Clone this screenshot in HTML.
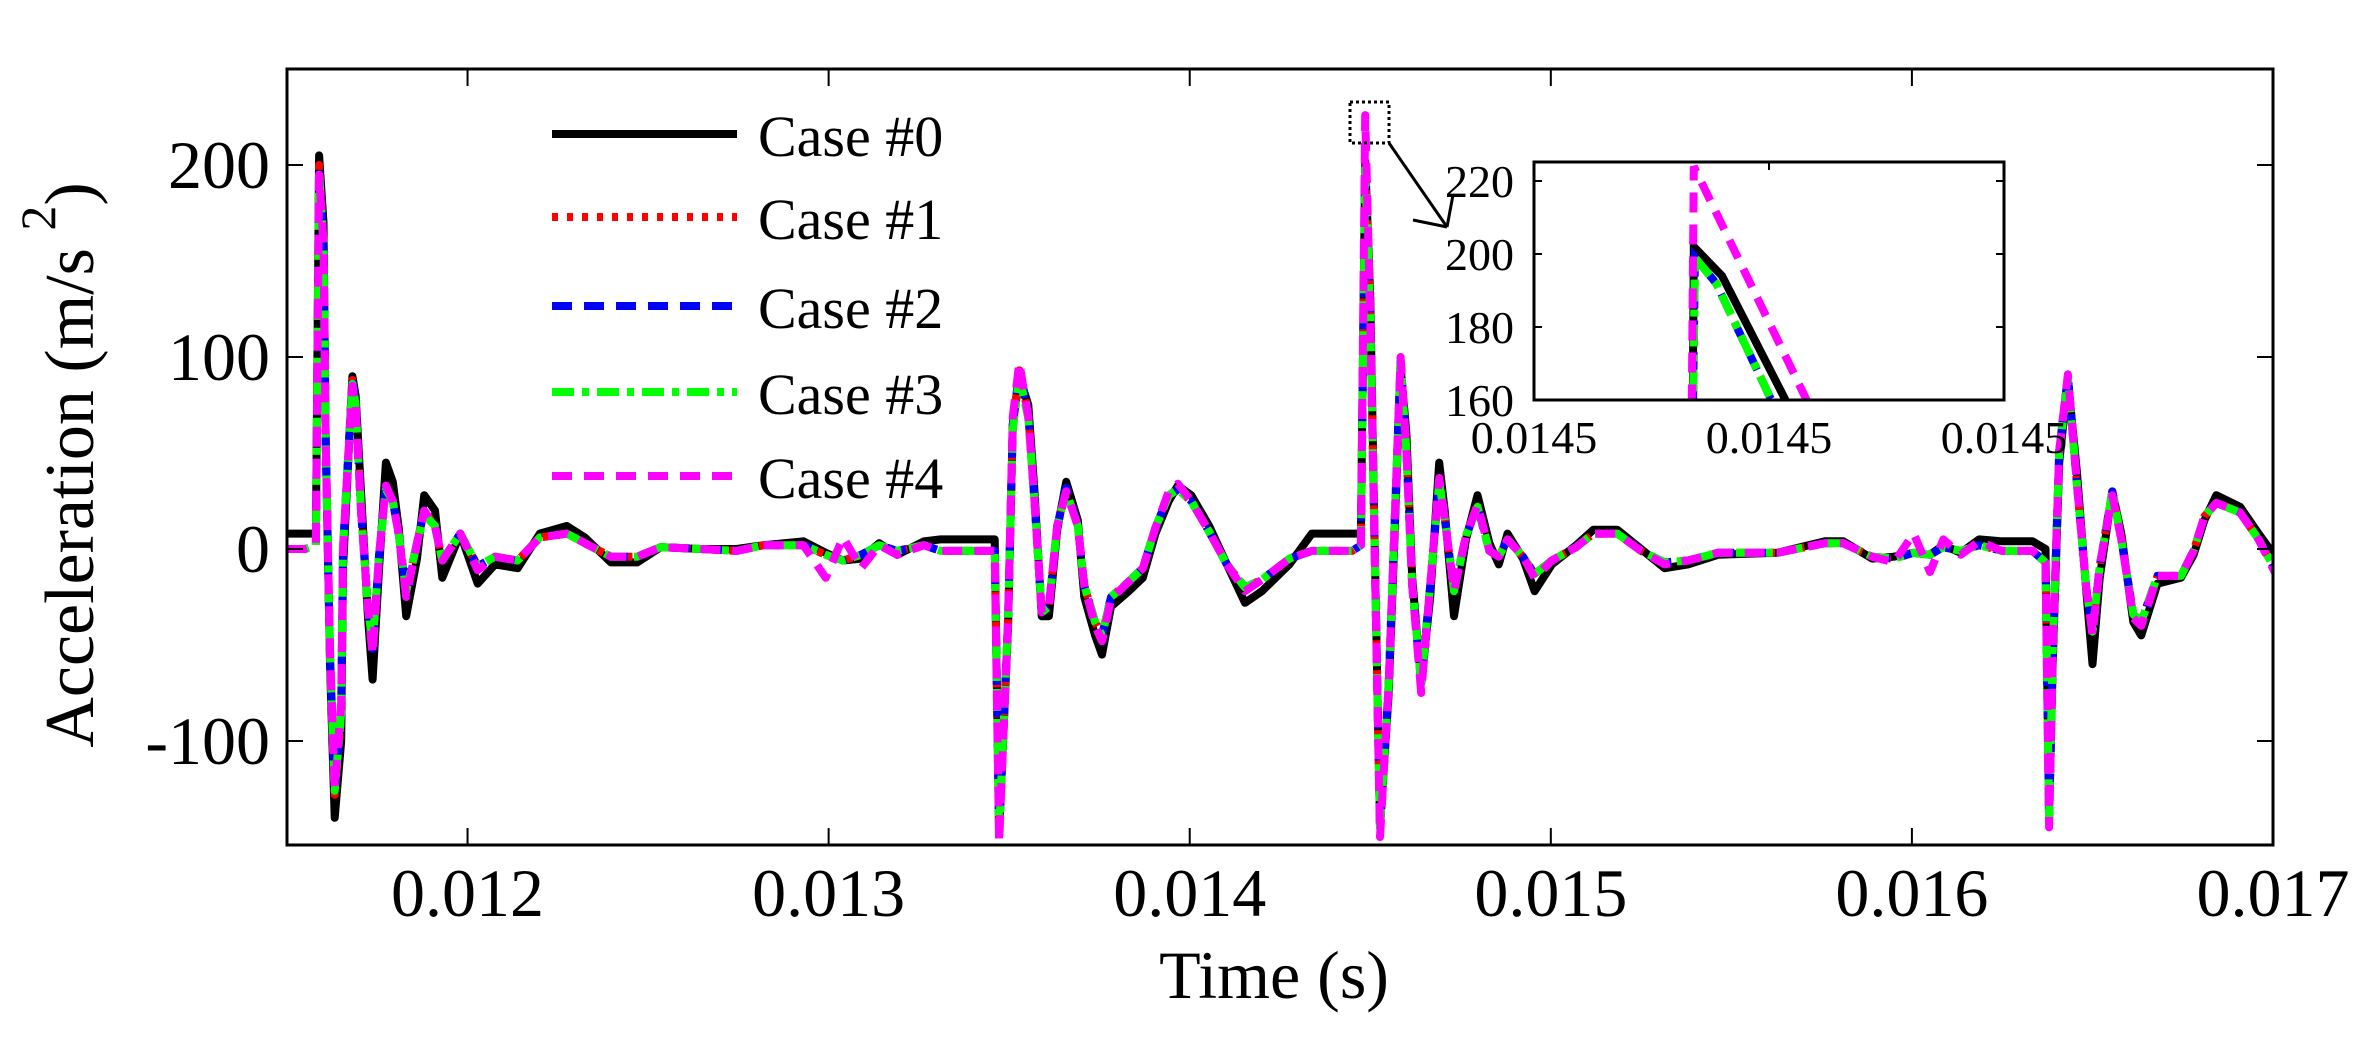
<!DOCTYPE html>
<html><head><meta charset="utf-8"><style>
html,body{margin:0;padding:0;background:#fff;}
svg{display:block;font-family:"Liberation Serif",serif;}
</style></head><body>
<svg id="chart" width="2373" height="1037" viewBox="0 0 2373 1037" xmlns="http://www.w3.org/2000/svg">
<defs>
<clipPath id="mainClip"><rect x="287" y="69" width="1986" height="776"/></clipPath>
<clipPath id="insetClip"><rect x="1534" y="162" width="470" height="238"/></clipPath>
</defs>
<rect x="287" y="69" width="1986" height="776" fill="#fff"/>
<g id="series" clip-path="url(#mainClip)"></g>
<g id="axes"></g>
<rect x="287" y="69" width="1986" height="776" fill="none" stroke="#000" stroke-width="3"/>
<text x="1274" y="998" font-size="68" text-anchor="middle">Time (s)</text>
<text transform="translate(93,465) rotate(-90)" font-size="70" text-anchor="middle">Acceleration (m/s <tspan font-size="50" dy="-38">2</tspan><tspan dy="38">)</tspan></text>
<g id="legend"></g>
<rect x="1350" y="102" width="39" height="41" fill="none" stroke="#000" stroke-width="3" stroke-dasharray="3 3"/>
<g stroke="#000" stroke-width="3" fill="none">
<line x1="1389" y1="143" x2="1447" y2="227"/>
<line x1="1447" y1="227" x2="1413" y2="220"/>
<line x1="1447" y1="227" x2="1453" y2="195"/>
</g>
<rect x="1534" y="162" width="470" height="238" fill="#fff"/>
<g id="insetSeries" clip-path="url(#insetClip)"></g>
<g id="insetAxes"></g>
<rect x="1534" y="162" width="470" height="238" fill="none" stroke="#000" stroke-width="3"/>
</svg>
<script>
const timeMs = [
11.50,11.55,11.58,11.589,11.601,11.607,11.619,11.632,11.65,11.655,
11.681,11.69,11.705,11.724,11.737,11.755,11.774,11.793,11.81,11.83,
11.86,11.88,11.91,11.93,11.98,12.028,12.076,12.139,12.20,12.275,
12.325,12.397,12.47,12.535,12.646,12.745,12.82,12.93,12.992,13.04,
13.09,13.14,13.19,13.264,13.31,13.46,13.472,13.497,13.51,13.528,
13.553,13.57,13.59,13.61,13.633,13.658,13.69,13.708,13.738,13.757,
13.782,13.831,13.87,13.905,13.942,13.967,14.004,14.054,14.103,14.153,
14.20,14.276,14.338,14.45,14.474,14.486,14.50,14.51,14.527,14.551,
14.568,14.584,14.60,14.616,14.641,14.666,14.691,14.706,14.732,14.765,
14.797,14.83,14.856,14.88,14.923,14.955,15.003,15.07,15.118,15.184,
15.25,15.315,15.38,15.463,15.627,15.759,15.81,15.89,15.95,16.005,
16.05,16.087,16.135,16.186,16.25,16.334,16.37,16.38,16.39,16.408,
16.432,16.457,16.482,16.50,16.52,16.555,16.58,16.613,16.635,16.68,
16.745,16.78,16.81,16.843,16.909,16.96,17.01];
const case0 = [
8,8,8,205,170,60,-60,-140,-100,-10,
90,80,30,-35,-68,-10,45,35,10,-35,
-5,28,20,-15,8,-18,-8,-10,8,12,
6,-7,-7,1,0,0,2,4,-2,-6,
-5,3,-3,4,5,5,-148,-40,65,90,
75,30,-35,-35,10,35,15,-25,-45,-55,
-30,-22,-15,8,25,33,28,12,-8,-28,
-22,-8,8,8,8,202,130,25,-145,-75,
10,95,60,-15,-70,-25,45,20,-35,5,
28,3,-8,8,-5,-22,-8,2,10,10,
0,-10,-8,-3,-2,4,4,-5,-4,-2,
-3,2,-2,5,4,4,0,-140,-60,45,
88,40,-20,-60,-15,30,8,-38,-45,-18,
-15,-3,15,28,22,8,-5];
const case1 = [
0,0,2,200,160,60,-55,-128,-85,0,
88,75,20,-30,-52,-3,33,25,7,-22,
3,20,12,-6,8,-9,-4,-6,6,8,
3,-4,-4,1,0,-1,2,2,-3,-6,
-3,2,-1,2,-1,-1,-148,-36,65,93,
70,25,-33,-30,12,32,12,-19,-38,-45,
-25,-17,-10,11,28,31,25,9,-8,-20,
-16,-5,-1,-1,2,200,120,20,-145,-70,
16,98,51,-19,-70,-19,35,16,-22,7,
22,-1,-4,5,-4,-13,-6,1,8,8,
-1,-7,-6,-2,-2,3,3,-4,-5,-2,
-3,1,-1,2,-1,-1,-7,-142,-54,51,
90,34,-19,-43,-9,30,5,-34,-38,-14,
-14,-1,17,24,19,5,-12];
const case2 = [
0,0,2,198,160,60,-55,-126,-85,0,
88,75,20,-30,-52,-3,33,25,7,-22,
3,20,12,-6,8,-9,-4,-6,6,8,
3,-4,-4,1,0,-1,2,2,-3,-6,
-3,2,-1,2,-1,-1,-148,-36,65,93,
70,25,-33,-30,12,32,12,-19,-38,-45,
-25,-17,-10,11,28,31,25,9,-8,-20,
-16,-5,-1,-1,2,199,120,20,-145,-70,
16,98,51,-19,-70,-19,35,16,-22,7,
22,-1,-4,5,-4,-13,-6,1,8,8,
-1,-7,-6,-2,-2,3,3,-4,-5,-2,
-3,1,-1,2,-1,-1,-7,-142,-54,51,
90,34,-19,-43,-9,30,5,-34,-38,-14,
-14,-1,17,24,19,5,-12];
const case3 = [
0,0,2,196,158,60,-55,-126,-85,0,
86,75,20,-30,-50,-3,31,25,7,-22,
3,18,12,-6,8,-9,-4,-6,6,8,
3,-4,-4,1,0,-1,2,2,-3,-6,
-3,2,-1,2,-1,-1,-148,-36,62,90,
68,25,-33,-30,12,30,12,-19,-38,-45,
-25,-17,-10,11,28,31,25,9,-8,-20,
-16,-5,-1,-1,2,198,120,20,-145,-70,
16,96,51,-19,-70,-19,35,16,-22,7,
22,-1,-4,5,-4,-13,-6,1,8,8,
-1,-7,-6,-2,-2,3,3,-4,-5,-2,
-3,1,-1,2,-1,-1,-7,-142,-54,51,
88,34,-19,-43,-9,30,5,-34,-38,-14,
-14,-1,17,24,19,5,-12];
const case4 = [
0,0,2,195,159,59,-53,-125,-80,0,
85,75,20,-30,-55,-3,33,25,7,-25,
3,20,12,-6,8,-11,-4,-6,6,8,
3,-4,-4,1,0,-1,2,2,-15,6,
-10,2,-3,2,-1,-1,-153,-36,69,97,
69,25,-33,-30,12,30,12,-19,-40,-48,
-26,-17,-10,11,30,34,25,9,-8,-22,
-16,-5,-1,-1,2,226,120,20,-150,-71,
16,100,51,-19,-75,-19,37,16,-22,7,
23,-1,-4,5,-4,-15,-6,1,8,8,
-1,-8,-6,-2,-2,3,3,-4,-7,8,
-12,5,-3,4,-1,-1,-7,-145,-54,51,
91,34,-19,-45,-9,28,5,-36,-40,-14,
-14,-1,17,24,19,5,-14];
const xTicks = [12,13,14,15,16,17];
const xTickLabels = ["0.012","0.013","0.014","0.015","0.016","0.017"];
const yTicks = [-100,0,100,200];
const yTickLabels = ["-100","0","100","200"];
const legendLabels = ["Case #0","Case #1","Case #2","Case #3","Case #4"];
// inset data (ms, m/s^2)
const insetT0 = [14.48535,14.48536,14.48560,14.48614];
const insetV0 = [150,202,194,160];
const insetT1 = [14.48535,14.48537,14.48555,14.48602];
const insetV1 = [150,199,192,160];
const insetT4 = [14.48534,14.48536,14.48632];
const insetV4 = [150,224,160];
const insetXTicks = [14.484,14.486,14.488];
const insetXTickLabels = ["0.0145","0.0145","0.0145"];
const insetYTicks = [160,180,200,220];
const insetYTickLabels = ["160","180","200","220"];

const NS = "http://www.w3.org/2000/svg";
function X(t){ return 287 + (t - 11.5) * (1986 / 5.5); }
function Y(v){ return 549 - v * 1.92; }
function IX(t){ return 1534 + (t - 14.484) * (470 / 0.004); }
function IY(v){ return 400 - (v - 160) * 3.65; }
const styles = [
 {c:"#000000", d:""},
 {c:"#ff0000", d:"6 9"},
 {c:"#0000ff", d:"20 12"},
 {c:"#00ff00", d:"22 8 7 8"},
 {c:"#ff00ff", d:"20 12"}
];
function mk(tag, attrs, parent){
  const e = document.createElementNS(NS, tag);
  for (const k in attrs) e.setAttribute(k, attrs[k]);
  parent.appendChild(e);
  return e;
}
function pathD(ts, vs, fx, fy){
  let d = "";
  for (let i = 0; i < ts.length; i++) d += (i ? "L" : "M") + fx(ts[i]).toFixed(1) + "," + fy(vs[i]).toFixed(1);
  return d;
}
const series = document.getElementById("series");
const allCases = [case0, case1, case2, case3, case4];
allCases.forEach((vals, i) => {
  const p = mk("path", {d: pathD(timeMs, vals, X, Y), fill: "none", stroke: styles[i].c, "stroke-width": 8, "stroke-linejoin": "round"}, series);
  if (styles[i].d) p.setAttribute("stroke-dasharray", styles[i].d);
  
  
});
const axes = document.getElementById("axes");
xTicks.forEach((t, i) => {
  const x = X(t);
  const a = mk("line", {x1:x, y1:845, x2:x, y2:828, stroke:"#000", "stroke-width":2}, axes);
  
  
  const b = mk("line", {x1:x, y1:69, x2:x, y2:86, stroke:"#000", "stroke-width":2}, axes);
  
  
  const tx = mk("text", {x:x, y:916, "font-size":68, "text-anchor":"middle"}, axes);
  tx.textContent = xTickLabels[i];
  
  
});
yTicks.forEach((v, i) => {
  const y = Y(v);
  const a = mk("line", {x1:287, y1:y, x2:303, y2:y, stroke:"#000", "stroke-width":2}, axes);
  
  
  const b = mk("line", {x1:2273, y1:y, x2:2257, y2:y, stroke:"#000", "stroke-width":2}, axes);
  
  
  const tx = mk("text", {x:270, y:y + 23, "font-size":68, "text-anchor":"end"}, axes);
  tx.textContent = yTickLabels[i];
  
  
});
const legend = document.getElementById("legend");
const legendRows = [134, 217, 306, 392, 476];
legendLabels.forEach((lab, i) => {
  const l = mk("line", {x1:552, y1:legendRows[i], x2:737, y2:legendRows[i], stroke:styles[i].c, "stroke-width":8}, legend);
  if (styles[i].d) l.setAttribute("stroke-dasharray", styles[i].d);
  
  
  const t = mk("text", {x:758, y:legendRows[i] + 22, "font-size":58}, legend);
  t.textContent = lab;
  
  
});
const ins = document.getElementById("insetSeries");
const insetSets = [[insetT0, insetV0, 0], [insetT1, insetV1, 1], [insetT1, insetV1, 2], [insetT1, insetV1, 3], [insetT4, insetV4, 4]];
insetSets.forEach(s => {
  const p = mk("path", {d: pathD(s[0], s[1], IX, IY), fill:"none", stroke:styles[s[2]].c, "stroke-width":8}, ins);
  if (styles[s[2]].d) p.setAttribute("stroke-dasharray", styles[s[2]].d);
  
  
});
const iax = document.getElementById("insetAxes");
insetXTicks.forEach((t, i) => {
  const x = IX(t);
  const a = mk("line", {x1:x, y1:162, x2:x, y2:170, stroke:"#000", "stroke-width":2}, iax);
  
  
  const tx = mk("text", {x:x, y:453, "font-size":46, "text-anchor":"middle"}, iax);
  tx.textContent = insetXTickLabels[i];
  
  
});
insetYTicks.forEach((v, i) => {
  const y = IY(v);
  const a = mk("line", {x1:1534, y1:y, x2:1542, y2:y, stroke:"#000", "stroke-width":2}, iax);
  
  
  const b = mk("line", {x1:2004, y1:y, x2:1996, y2:y, stroke:"#000", "stroke-width":2}, iax);
  
  
  const tx = mk("text", {x:1514, y:y + 16, "font-size":46, "text-anchor":"end"}, iax);
  tx.textContent = insetYTickLabels[i];
  
  
});
</script>
</body></html>
